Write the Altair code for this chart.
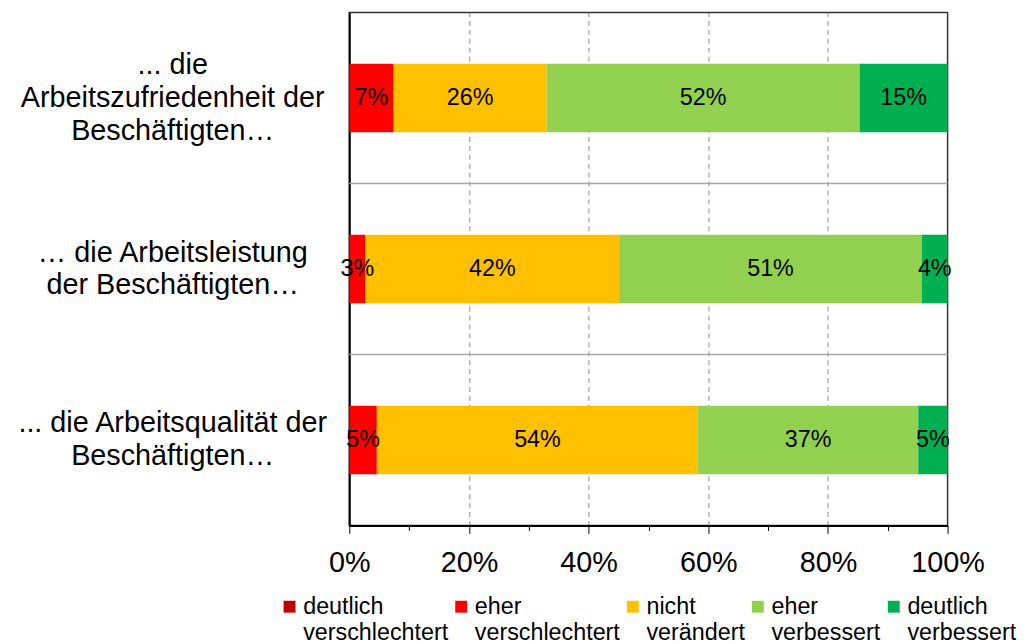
import altair as alt
import pandas as pd

categories = [
    "... die\nArbeitszufriedenheit der\nBeschäftigten…",
    "… die Arbeitsleistung\nder Beschäftigten…",
    "... die Arbeitsqualität der\nBeschäftigten…",
]
series = ["deutlich verschlechtert", "eher verschlechtert", "nicht verändert",
          "eher verbessert", "deutlich verbessert"]
colors = ["#C00000", "#FF0000", "#FFC000", "#92D050", "#00B050"]

deutlich_verschlechtert = [0.0, 0.0, 0.0]
eher_verschlechtert = [7.4, 2.7, 4.6]
nicht_veraendert = [25.6, 42.4, 53.7]
eher_verbessert = [52.3, 50.6, 36.8]
deutlich_verbessert = [14.7, 4.3, 4.9]

x_tick_values = list(range(0, 101, 5))

values_by_series = [deutlich_verschlechtert, eher_verschlechtert, nicht_veraendert,
                    eher_verbessert, deutlich_verbessert]
rows = []
for si, (s, vals) in enumerate(zip(series, values_by_series)):
    for c, v in zip(categories, vals):
        rows.append({"cat": c, "series": s, "order": si, "value": v})
df = pd.DataFrame(rows)
cat_df = pd.DataFrame({"cat": categories,
                       "idx": list(range(len(categories))),
                       "nlines": [c.count("\n") + 1 for c in categories]})

FONT = "Liberation Sans"
HEIGHT = 517
PAD_IN, PAD_OUT = 0.6, 0.3
step = HEIGHT / (len(categories) - PAD_IN + 2 * PAD_OUT)
sep_offset = step * PAD_IN / 2  # from bar edge to midpoint between bars

y_scale = alt.Scale(domain=categories, paddingInner=PAD_IN, paddingOuter=PAD_OUT)
y_axis = alt.Axis(
    title=None, labels=False, ticks=False, grid=False,
    domainColor="black", domainWidth=2,
)

x_axis = alt.Axis(
    values=x_tick_values, title=None,
    labelExpr="datum.value % 20 == 0 ? datum.value + '%' : ''",
    labelFontSize=29, labelFont=FONT, labelColor="black", labelPadding=15,
    labelFlush=False,
    domainColor="black", domainWidth=2, tickColor="black", tickWidth=1,
    tickSize={"condition": {"test": "datum.value % 20 == 0", "value": 8}, "value": 5},
    grid=True, gridColor="#8c8c8c", gridDash=[5, 4], gridWidth=1,
    gridOpacity={"condition": {"test": "datum.value % 20 == 0 && datum.value > 0 && datum.value < 100", "value": 1}, "value": 0},
)

# category separator lines (between the category bands)
separators = alt.Chart(cat_df).transform_filter(
    f"datum.idx < {len(categories) - 1}"
).mark_rule(color="#a6a6a6", strokeWidth=1.5, yOffset=sep_offset).encode(
    y=alt.Y("cat:N", sort=categories, scale=y_scale, axis=y_axis, bandPosition=1)
)

base = alt.Chart(df).transform_stack(
    stack="value", groupby=["cat"], as_=["x0", "x1"], sort=[alt.SortField("order")]
)

bars = base.mark_bar().encode(
    y=alt.Y("cat:N", sort=categories),
    x=alt.X("x0:Q", scale=alt.Scale(domain=[0, 100], nice=False), axis=x_axis),
    x2="x1:Q",
    color=alt.Color(
        "series:N",
        scale=alt.Scale(domain=series, range=colors),
        legend=alt.Legend(
            title=None, orient="none", legendX=-72, legendY=594,
            direction="horizontal", columns=5, columnPadding=1,
            symbolType="M-1,-2.2L1,-2.2L1,-0.2L-1,-0.2Z", symbolSize=144,
            symbolStrokeWidth=0,
            labelExpr="split(datum.label, ' ')",
            labelFontSize=23.5, labelBaseline="alphabetic",
            labelFont=FONT, labelColor="black", labelOffset=2, labelLimit=300,
            padding=0,
        ),
    ),
)

labels = base.transform_filter("datum.value > 0").transform_calculate(
    mid="(datum.x0 + datum.x1) / 2",
    lbl="format(datum.value / 100, '.0%')",
).mark_text(font=FONT, fontSize=23.5, color="black", baseline="middle").encode(
    y=alt.Y("cat:N", sort=categories),
    x=alt.X("mid:Q"),
    text="lbl:N",
)

def cat_labels(n, dy):
    return alt.Chart(cat_df).transform_filter(f"datum.nlines == {n}").mark_text(
        font=FONT, fontSize=29, lineHeight=33, lineBreak="\n", align="center",
        baseline="middle", color="black", dy=dy,
    ).encode(y=alt.Y("cat:N", sort=categories), x=alt.value(-178), text="cat:N")

chart = alt.layer(separators, bars, labels, cat_labels(3, -33), cat_labels(2, -16.5)).properties(
    width=603, height=HEIGHT,
    autosize=alt.AutoSizeParams(type="none"),
    padding={"left": 344, "top": 2, "right": 74, "bottom": 117},
).configure(
    font=FONT, style={"guide-label": {"lineHeight": 26}}
).configure_view(stroke="#333333", strokeWidth=1.5)

chart.save("out.html", embed_options={"renderer": "svg", "actions": False})
